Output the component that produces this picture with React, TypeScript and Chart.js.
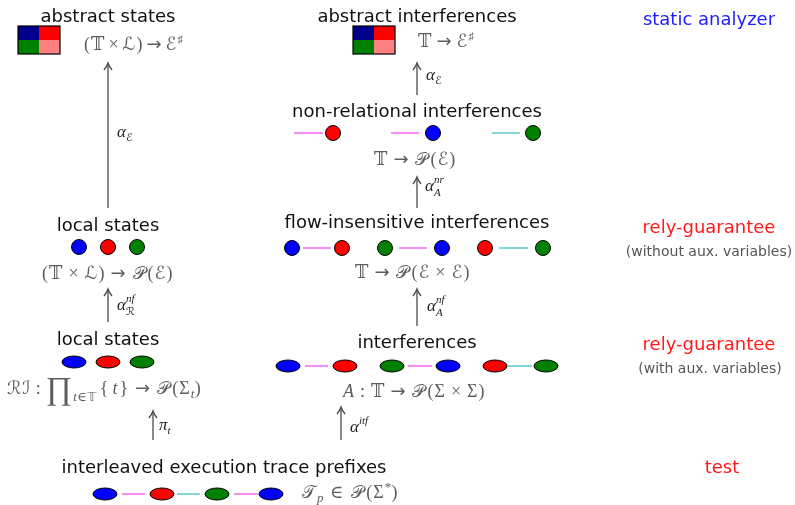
import React, { useEffect, useRef } from "react";
import { Chart, registerables } from "chart.js";
Chart.register(...registerables);

type P = { x: number; y: number };

// ---------- data ----------
const blueCircles: P[] = [{ x: 79, y: 247 }, { x: 433, y: 133 }, { x: 292, y: 248 }, { x: 442, y: 248 }];
const redCircles: P[] = [{ x: 108, y: 247 }, { x: 333, y: 133 }, { x: 342, y: 248 }, { x: 485, y: 248 }];
const greenCircles: P[] = [{ x: 137, y: 247 }, { x: 533, y: 133 }, { x: 385, y: 248 }, { x: 543, y: 248 }];

const blueEllipses: P[] = [{ x: 74, y: 362 }, { x: 288, y: 366 }, { x: 448, y: 366 }, { x: 105, y: 494 }, { x: 271, y: 494 }];
const redEllipses: P[] = [{ x: 108, y: 362 }, { x: 345, y: 366 }, { x: 495, y: 366 }, { x: 162, y: 494 }];
const greenEllipses: P[] = [{ x: 142, y: 362 }, { x: 392, y: 366 }, { x: 546, y: 366 }, { x: 217, y: 494 }];

// [x1, x2, y]
const magentaLinks: number[][] = [
  [294, 323, 133], [391, 419, 133],
  [303, 331, 248], [399, 427, 248],
  [305, 328, 366], [408, 432, 366],
  [122, 145, 494], [234, 258, 494],
];
const tealLinks: number[][] = [
  [492, 520, 133], [499, 528, 248], [508, 532, 366], [177, 200, 494],
];

// arrows: x, bottom y, tip y
const arrows: number[][] = [
  [108, 208, 63], [417, 95, 63], [417, 208, 177], [108, 322, 289],
  [417, 326, 289], [153, 440, 411], [341, 440, 407],
];

// colour grids: top-left corner
const grids: P[] = [{ x: 18, y: 26 }, { x: 353, y: 26 }];
const gridColors = ["#00008b", "#ff0000", "#008000", "#ff8080"];

const titleTexts = [
  "abstract states", "abstract interferences", "non-relational interferences", "local states",
  "flow-insensitive interferences", "local states", "interferences", "interleaved execution trace prefixes",
];
const titleAnchors: P[] = [
  { x: 108, y: 22 }, { x: 417, y: 22 }, { x: 417, y: 117 }, { x: 108, y: 231 },
  { x: 417, y: 228 }, { x: 108, y: 345 }, { x: 417, y: 348 }, { x: 224, y: 473 },
];
const sideTexts = ["static analyzer", "rely-guarantee", "rely-guarantee", "test"];
const sideColors = ["#1c1cff", "#ff1a1a", "#ff1a1a", "#ff1a1a"];
const sideAnchors: P[] = [{ x: 709, y: 25 }, { x: 709, y: 233 }, { x: 709, y: 350 }, { x: 722, y: 473 }];
const noteTexts = ["(without aux. variables)", "(with aux. variables)"];
const noteAnchors: P[] = [{ x: 709, y: 256 }, { x: 710, y: 373 }];

type Seg = { t: string; s?: number; it?: boolean; dy?: number; ff?: string; hold?: boolean; pad?: number };

const ARW = "'DejaVu Sans', sans-serif";
const formulas: Seg[][] = [
  [{ t: "(𝕋" }, { t: "×", pad: 3 }, { t: "ℒ)" }, { t: "→", ff: ARW, pad: 3 }, { t: "ℰ" }, { t: "♯", s: 11, dy: -7 }],
  [{ t: "𝕋" }, { t: "→", ff: ARW, pad: 4 }, { t: "ℰ" }, { t: "♯", s: 11, dy: -7 }],
  [{ t: "𝕋" }, { t: "→", ff: ARW, pad: 5 }, { t: "𝒫", pad: 1 }, { t: "(ℰ)" }],
  [{ t: "(𝕋" }, { t: "×", pad: 5 }, { t: "ℒ)" }, { t: "→", ff: ARW, pad: 5 }, { t: "𝒫", pad: 1 }, { t: "(ℰ)" }],
  [{ t: "𝕋" }, { t: "→", ff: ARW, pad: 5 }, { t: "𝒫", pad: 1 }, { t: "(ℰ" }, { t: "×", pad: 5 }, { t: "ℰ)" }],
  [{ t: "ℛℐ" }, { t: ":", pad: 4 }, { t: "∏", s: 32, dy: 5 }, { t: "t∈𝕋", s: 13, dy: 7, it: true }, { t: "{", pad: 3 }, { t: "t", it: true }, { t: "}", pad: 1 }, { t: "→", ff: ARW, pad: 5 }, { t: "𝒫", pad: 1 }, { t: "(Σ" }, { t: "t", s: 13, dy: 4, it: true }, { t: ")" }],
  [{ t: "A", it: true }, { t: ":", pad: 5 }, { t: "𝕋" }, { t: "→", ff: ARW, pad: 5 }, { t: "𝒫", pad: 1 }, { t: "(Σ" }, { t: "×", pad: 5 }, { t: "Σ)" }],
  [{ t: "𝒯" }, { t: "p", s: 13, dy: 4, it: true }, { t: "∈", pad: 6 }, { t: "𝒫", pad: 1 }, { t: "(Σ" }, { t: "*", s: 13, dy: -7 }, { t: ")" }],
];
const formulaAnchors: P[] = [
  { x: 84, y: 50 }, { x: 418, y: 47 }, { x: 374, y: 165 }, { x: 42, y: 279 },
  { x: 355, y: 278 }, { x: 7, y: 394 }, { x: 343, y: 397 }, { x: 302, y: 498 },
];

const arrowLabels: Seg[][] = [
  [{ t: "α", it: true }, { t: "ℰ", s: 11, dy: 4 }],
  [{ t: "α", it: true }, { t: "ℰ", s: 11, dy: 4 }],
  [{ t: "α", it: true }, { t: "nr", s: 11, it: true, dy: -8, hold: true }, { t: "A", s: 11, it: true, dy: 5 }],
  [{ t: "α", it: true }, { t: "nf", s: 11, it: true, dy: -8, hold: true }, { t: "ℛ", s: 11, dy: 5 }],
  [{ t: "α", it: true }, { t: "nf", s: 11, it: true, dy: -8, hold: true }, { t: "A", s: 11, it: true, dy: 5 }],
  [{ t: "π", it: true }, { t: "t", s: 11, it: true, dy: 4 }],
  [{ t: "α", it: true }, { t: "itf", s: 11, it: true, dy: -8 }],
];
const arrowLabelAnchors: P[] = [
  { x: 117, y: 137 }, { x: 426, y: 80 }, { x: 425, y: 191 }, { x: 117, y: 310 },
  { x: 427, y: 311 }, { x: 159, y: 430 }, { x: 350, y: 432 },
];

// ---------- styles ----------
const SANS = "'DejaVu Sans', sans-serif";
const MATH = "'Liberation Serif', 'DejaVu Serif', 'DejaVu Sans', serif";

function makeEllipse(color: string): HTMLCanvasElement {
  const c = document.createElement("canvas");
  c.width = 28;
  c.height = 16;
  const g = c.getContext("2d")!;
  g.beginPath();
  g.ellipse(14, 8, 12, 6, 0, 0, Math.PI * 2);
  g.fillStyle = color;
  g.fill();
  g.lineWidth = 1;
  g.strokeStyle = "#000";
  g.stroke();
  return c;
}

function drawRich(ctx: CanvasRenderingContext2D, segs: Seg[], x: number, y: number, base: number, color: string, spacing: number) {
  let cx = x;
  let held = 0;
  ctx.fillStyle = color;
  ctx.textBaseline = "alphabetic";
  ctx.textAlign = "left";
  for (const sg of segs) {
    const size = sg.s ?? base;
    ctx.font = `${sg.it ? "italic " : ""}${size}px ${sg.ff ?? MATH}`;
    const pad = sg.pad ?? 0;
    const sp = size < base ? spacing * 0.4 : spacing;
    let w = 0;
    for (const ch of Array.from(sg.t)) {
      ctx.fillText(ch, cx + pad + w, y + (sg.dy ?? 0));
      w += ctx.measureText(ch).width + sp;
    }
    if (sg.hold) {
      held = w;
    } else {
      cx += Math.max(w, held) + 2 * pad;
      held = 0;
    }
  }
}

const overlay = {
  id: "diagramOverlay",
  afterDatasetsDraw(chart: any) {
    const ctx: CanvasRenderingContext2D = chart.ctx;
    const xs = chart.scales.x;
    const ys = chart.scales.y;
    const px = (v: number) => xs.getPixelForValue(v);
    const py = (v: number) => ys.getPixelForValue(v);
    ctx.save();
    // colour grids
    grids.forEach((g) => {
      const w = 21, h = 14;
      const cells = [[0, 0], [1, 0], [0, 1], [1, 1]];
      cells.forEach(([i, j], k) => {
        ctx.fillStyle = gridColors[k];
        const x0 = px(g.x + i * w), y0 = py(g.y + j * h);
        ctx.fillRect(x0, y0, px(g.x + (i + 1) * w) - x0, py(g.y + (j + 1) * h) - y0);
      });
      ctx.strokeStyle = "#000";
      ctx.lineWidth = 1.2;
      ctx.strokeRect(px(g.x), py(g.y), px(g.x + 2 * w) - px(g.x), py(g.y + 2 * h) - py(g.y));
    });
    // arrow heads
    ctx.strokeStyle = "#4a4a4a";
    ctx.lineWidth = 1.3;
    arrows.forEach(([x, , tip]) => {
      const X = px(x), T = py(tip);
      ctx.beginPath();
      ctx.moveTo(X - 4, T + 7);
      ctx.quadraticCurveTo(X - 1, T + 3, X, T);
      ctx.quadraticCurveTo(X + 1, T + 3, X + 4, T + 7);
      ctx.stroke();
    });
    // titles
    ctx.textBaseline = "alphabetic";
    ctx.textAlign = "center";
    ctx.fillStyle = "#111";
    ctx.font = `18px ${SANS}`;
    titleTexts.forEach((t, i) => ctx.fillText(t, px(titleAnchors[i].x), py(titleAnchors[i].y)));
    sideTexts.forEach((t, i) => {
      ctx.fillStyle = sideColors[i];
      ctx.fillText(t, px(sideAnchors[i].x), py(sideAnchors[i].y));
    });
    ctx.fillStyle = "#555";
    ctx.font = `14px ${SANS}`;
    noteTexts.forEach((t, i) => ctx.fillText(t, px(noteAnchors[i].x), py(noteAnchors[i].y)));
    formulas.forEach((f, i) => drawRich(ctx, f, px(formulaAnchors[i].x), py(formulaAnchors[i].y), 18, "#5e5e5e", 1));
    arrowLabels.forEach((f, i) => drawRich(ctx, f, px(arrowLabelAnchors[i].x), py(arrowLabelAnchors[i].y), 17, "#222", 0));
    ctx.restore();
  },
};

export default function App() {
  const ref = useRef<HTMLCanvasElement | null>(null);
  useEffect(() => {
    if (!ref.current) return;
    const linkSets = (links: number[][], color: string) =>
      links.map((l) => ({
        type: "line" as const,
        data: [{ x: l[0], y: l[2] }, { x: l[1], y: l[2] }],
        borderColor: color,
        borderWidth: 1.3,
        pointRadius: 0,
        showLine: true,
        order: 10,
      }));
    const arrowSets = arrows.map((a) => ({
      type: "line" as const,
      data: [{ x: a[0], y: a[1] }, { x: a[0], y: a[2] }],
      borderColor: "#4a4a4a",
      borderWidth: 1.3,
      pointRadius: 0,
      showLine: true,
      order: 10,
    }));
    const circleSet = (d: P[], c: string) => ({
      type: "scatter" as const,
      data: d,
      pointStyle: "circle",
      pointRadius: 7.5,
      backgroundColor: c,
      borderColor: "#000",
      borderWidth: 1,
      order: 1,
    });
    const ellipseSet = (d: P[], c: string) => ({
      type: "scatter" as const,
      data: d,
      pointStyle: makeEllipse(c),
      pointRadius: 8,
      order: 1,
    });
    const chart = new Chart(ref.current, {
      type: "scatter",
      data: {
        datasets: [
          circleSet(blueCircles, "#0000ff"),
          circleSet(redCircles, "#ff0000"),
          circleSet(greenCircles, "#008000"),
          ellipseSet(blueEllipses, "#0000ff"),
          ellipseSet(redEllipses, "#ff0000"),
          ellipseSet(greenEllipses, "#008000"),
          ...linkSets(magentaLinks, "#f050f0"),
          ...linkSets(tealLinks, "#40c0c0"),
          ...arrowSets,
        ] as any,
      },
      options: {
        animation: false,
        responsive: false,
        events: [],
        layout: { padding: 0, autoPadding: false },
        plugins: { legend: { display: false }, tooltip: { enabled: false } },
        scales: {
          x: { type: "linear", min: 0, max: 795, display: false },
          y: { type: "linear", min: 0, max: 505, reverse: true, display: false },
        },
      },
      plugins: [overlay],
    });
    return () => chart.destroy();
  }, []);
  return (
    <canvas
      ref={ref}
      width={795}
      height={505}
      style={{ position: "fixed", left: 0, top: 0, width: 795, height: 505, background: "#fff" }}
    />
  );
}
